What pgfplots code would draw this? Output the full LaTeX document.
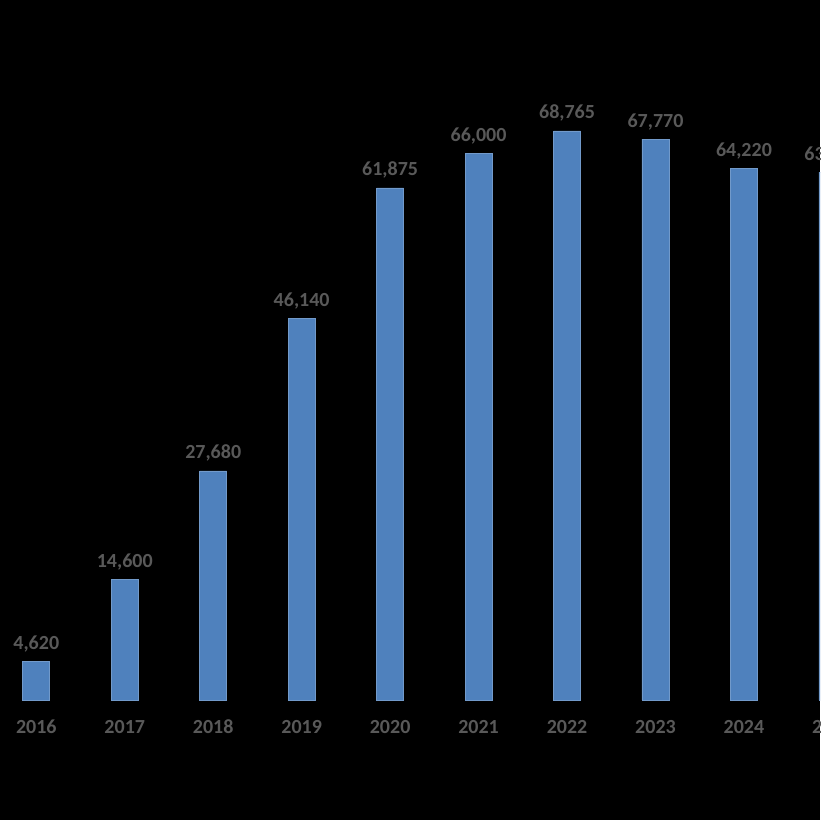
\documentclass[border=0pt]{standalone}
\usepackage{pgfplots}
\pgfplotsset{compat=1.18}
\usepackage{fontspec}
\setmainfont{Carlito}
\definecolor{barblue}{RGB}{79,129,189}
\definecolor{labgray}{RGB}{89,89,89}
\begin{document}
\begin{tikzpicture}
\useasboundingbox (0,0) rectangle (410pt,410pt);
\fill[black] (0,0) rectangle (410pt,410pt);
\clip (0,0) rectangle (410pt,410pt);
\begin{axis}[
  at={(0,0)}, anchor=south west,
  scale only axis, width=438.32pt, height=410pt,
  xmin=-0.4102, xmax=9.5,
  ymin=-14502, ymax=84592,
  clip=false,
  axis x line=middle, axis y line=none,
  x axis line style={draw=none},
  xtick={0,1,2,3,4,5,6,7,8,9},
  xticklabels={2016,2017,2018,2019,2020,2021,2022,2023,2024,2025},
  major tick length=0pt,
  xticklabel style={font=\bfseries\fontsize{10}{12}\selectfont, text=labgray, anchor=base, inner sep=0pt, yshift=-17pt},
  ytick=\empty,
  ybar, bar width=13.5pt,
  /pgf/number format/assume math mode=true,
  nodes near coords={\pgfmathprintnumber[1000 sep={,},fixed,precision=0,assume math mode=true]{\pgfplotspointmeta}},
  nodes near coords style={font=\bfseries\fontsize{10}{12}\selectfont, text=labgray, anchor=base, inner sep=0pt, yshift=6pt},
]
\addplot[fill=barblue, draw=barblue!80!white, line width=0.4pt] coordinates {
 (0,4620) (1,14600) (2,27680) (3,46140) (4,61875) (5,66000) (6,68765) (7,67770) (8,64220) (9,63800)
};
\end{axis}
\end{tikzpicture}
\end{document}
